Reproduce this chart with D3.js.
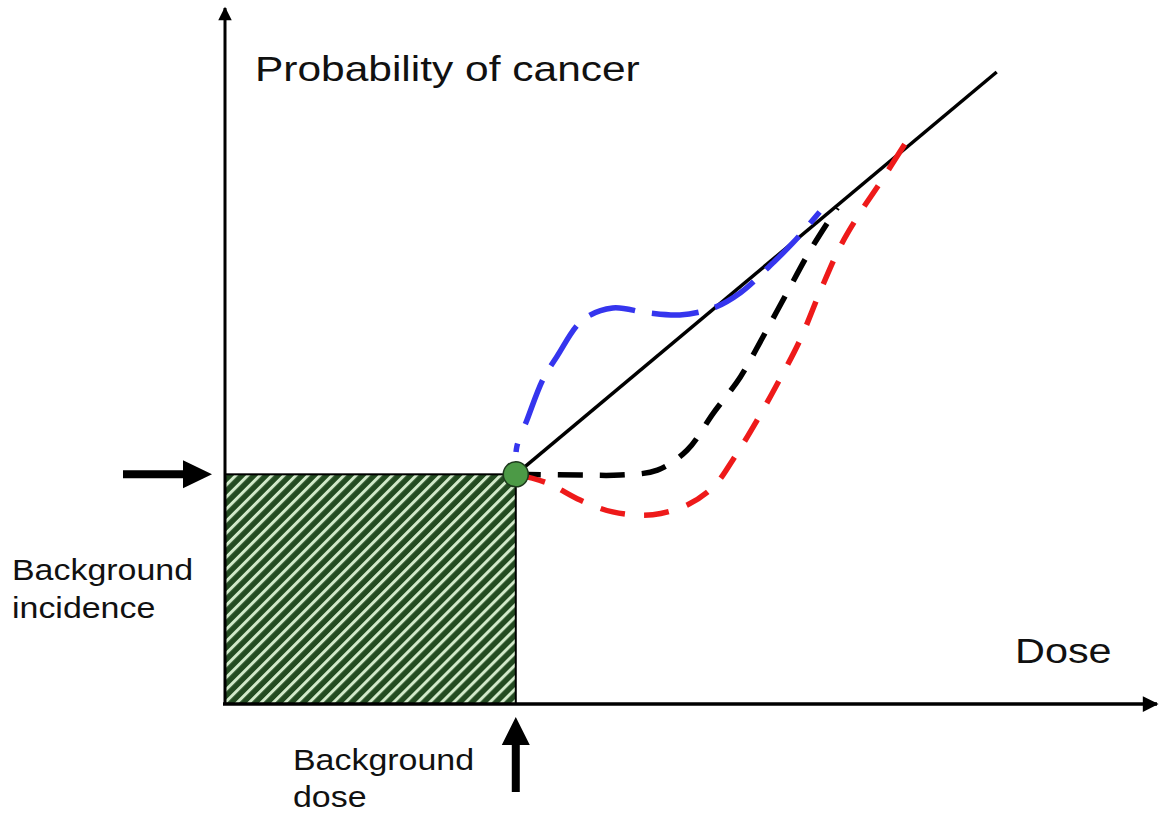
<!DOCTYPE html>
<html>
<head>
<meta charset="utf-8">
<script src="https://cdn.jsdelivr.net/npm/d3@7/dist/d3.min.js"></script>
<style>
  html, body { margin: 0; padding: 0; background: #fff; }
  svg { display: block; }
  text { font-family: "Liberation Sans", Arial, sans-serif; fill: #111; }
</style>
</head>
<body>
<svg id="chart"></svg>
<script>
// Curvas dosis-respuesta (unidades arbitrarias 0..100)
const background = { dose: 31.2, incidence: 33.0 };

const linearDose = [31.2, 82.8];
const linearProb = [33.0, 90.8];

const supraDose = [31.2, 31.3, 32.4, 34.1, 35.6, 38.4, 41.6, 45.3, 48.8, 52.4, 55.3, 58.8, 60.9, 63.8];
const supraProb = [33.0, 36.9, 40.8, 46.6, 49.9, 55.2, 56.9, 56.2, 55.9, 56.9, 59.1, 63.4, 66.2, 70.7];

const thresholdDose = [31.2, 38.1, 42.4, 46.4, 49.6, 52.4, 55.3, 57.7, 60.3, 62.8, 65.7];
const thresholdProb = [33.0, 32.9, 32.9, 33.6, 36.5, 41.8, 47.0, 52.7, 59.1, 65.2, 71.3];

const hormesisDose = [31.2, 34.5, 38.1, 41.6, 45.9, 49.6, 52.4, 54.5, 57.1, 59.5, 61.7, 63.8, 66.0, 68.1, 70.3, 73.2];
const hormesisProb = [33.0, 31.8, 29.3, 27.6, 27.2, 28.6, 31.2, 35.1, 40.8, 46.6, 52.3, 59.1, 65.7, 70.5, 74.9, 81.0];

const width = 1159;
const height = 813;

const svg = d3.select('#chart').attr('width', width).attr('height', height);

const x = d3.scaleLinear().domain([0, 100]).range([225, 1157]);
const y = d3.scaleLinear().domain([0, 100]).range([704, 8]);

const zip = (xs, ys) => xs.map((v, i) => [v, ys[i]]);

const defs = svg.append('defs');

// Rayado del área de fondo
const pat = defs.append('pattern')
  .attr('id', 'hatch')
  .attr('patternUnits', 'userSpaceOnUse')
  .attr('width', 8.5).attr('height', 8.5)
  .attr('patternTransform', 'rotate(45)');
pat.append('rect').attr('width', 8.5).attr('height', 8.5).attr('fill', '#234b21');
pat.append('rect').attr('width', 3).attr('height', 8.5).attr('fill', '#d2eaca');

// Flechas de los ejes
defs.append('marker')
  .attr('id', 'axisHead')
  .attr('viewBox', '0 0 10 10')
  .attr('refX', 9).attr('refY', 5)
  .attr('markerWidth', 5).attr('markerHeight', 4.5)
  .attr('markerUnits', 'strokeWidth')
  .attr('orient', 'auto')
  .append('path').attr('d', 'M0,0 L10,5 L0,10 z').attr('fill', '#000');

// Rectángulo de fondo
svg.append('rect')
  .attr('x', x(0))
  .attr('y', y(background.incidence))
  .attr('width', x(background.dose) - x(0))
  .attr('height', y(0) - y(background.incidence))
  .attr('fill', 'url(#hatch)')
  .attr('stroke', '#000')
  .attr('stroke-width', 2);

// Ejes
svg.append('line')
  .attr('x1', x(0)).attr('y1', y(0))
  .attr('x2', x(0)).attr('y2', y(100))
  .attr('stroke', '#000').attr('stroke-width', 3)
  .attr('marker-end', 'url(#axisHead)');

svg.append('line')
  .attr('x1', x(0) - 2).attr('y1', y(0))
  .attr('x2', x(100)).attr('y2', y(0))
  .attr('stroke', '#000').attr('stroke-width', 3.5)
  .attr('marker-end', 'url(#axisHead)');

const line = d3.line()
  .x(d => x(d[0]))
  .y(d => y(d[1]))
  .curve(d3.curveCatmullRom.alpha(0.5));

// Modelo lineal sin umbral
svg.append('path')
  .attr('d', d3.line().x(d => x(d[0])).y(d => y(d[1]))(zip(linearDose, linearProb)))
  .attr('fill', 'none')
  .attr('stroke', '#000')
  .attr('stroke-width', 3.5);

// Umbral
svg.append('path')
  .attr('d', line(zip(thresholdDose, thresholdProb)))
  .attr('fill', 'none')
  .attr('stroke', '#000')
  .attr('stroke-width', 5.5)
  .attr('stroke-dasharray', '25,17');

// Hormesis
svg.append('path')
  .attr('d', line(zip(hormesisDose, hormesisProb)))
  .attr('fill', 'none')
  .attr('stroke', '#ee1a1a')
  .attr('stroke-width', 5.5)
  .attr('stroke-dasharray', '30,18,25,19,25,19,25,19,25,19,25,19,25,19,25,19,25,19,25,19,25,19,25,19,25,19');

// Supralineal
svg.append('path')
  .attr('d', line(zip(supraDose, supraProb)))
  .attr('fill', 'none')
  .attr('stroke', '#3535ee')
  .attr('stroke-width', 5.5)
  .attr('stroke-dasharray', '0,22,9,21,47,17,47,17,47,17,47,17,47,17,47,17,47,17,47,17');

// Punto de fondo
svg.append('circle')
  .attr('cx', x(background.dose))
  .attr('cy', y(background.incidence))
  .attr('r', 12.5)
  .attr('fill', '#4c9a46')
  .attr('stroke', '#1d3a1c')
  .attr('stroke-width', 1.5);

// Flechas gruesas
const by = y(background.incidence);
svg.append('path')
  .attr('d', `M${x(0) - 102},${by - 4} L${x(0) - 42},${by - 4} L${x(0) - 42},${by - 14} L${x(0) - 13},${by} L${x(0) - 42},${by + 14} L${x(0) - 42},${by + 4} L${x(0) - 102},${by + 4} Z`)
  .attr('fill', '#000');

const bx = x(background.dose);
const ay = y(0);
svg.append('path')
  .attr('d', `M${bx - 4},${ay + 88} L${bx - 4},${ay + 41} L${bx - 14},${ay + 41} L${bx},${ay + 13} L${bx + 14},${ay + 41} L${bx + 4},${ay + 41} L${bx + 4},${ay + 88} Z`)
  .attr('fill', '#000');

// Textos
function label(lines, tx, ty, size, lh, sx) {
  const t = svg.append('text')
    .attr('transform', `translate(${tx},${ty}) scale(${sx},1)`)
    .attr('font-size', size);
  lines.forEach((s, i) => {
    t.append('tspan').attr('x', 0).attr('y', i * lh).text(s);
  });
}

label(['Probability of cancer'], 255, 81, 36, 0, 1.18);
label(['Dose'], 1015, 663, 36, 0, 1.15);
label(['Background', 'incidence'], 12, 580, 29, 38, 1.17);
label(['Background', 'dose'], 293, 770, 29, 37, 1.17);
</script>
</body>
</html>
